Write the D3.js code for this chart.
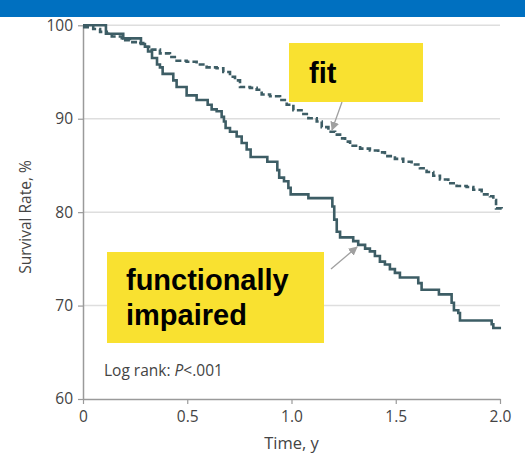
<!DOCTYPE html>
<html>
<head>
<meta charset="utf-8">
<script src="https://cdn.jsdelivr.net/npm/d3@7"></script>
<style>
  body { margin: 0; background: #fff; }
  svg { display: block; }
</style>
</head>
<body>
<div id="chart"></div>
<script>
// survival curves
// each point = time (years) where the step drops, and the rate after it

// functionally impaired (solid line)
var impairedTimes = [0, 0.110, 0.193, 0.278, 0.297, 0.312, 0.331, 0.355, 0.369, 0.382, 0.433, 0.449, 0.497, 0.545, 0.598,
    0.617, 0.641, 0.665, 0.676, 0.684, 0.705, 0.737, 0.761, 0.785, 0.804, 0.884, 0.932, 0.941, 0.964, 0.985,
    0.996, 1.081, 1.196, 1.205, 1.217, 1.233, 1.296, 1.320, 1.353, 1.376, 1.400, 1.424, 1.448, 1.472, 1.496,
    1.520, 1.608, 1.624, 1.707, 1.768, 1.779, 1.800, 1.808, 1.960, 1.968, 2.005];
var impairedRates = [100, 99.1, 98.6, 98.0, 97.7, 97.2, 96.5, 95.8, 95.5, 94.8, 94.1, 93.4, 92.5, 92.0, 91.5,
    91.0, 90.8, 90.2, 89.7, 89.0, 88.6, 88.1, 87.4, 86.7, 85.9, 85.4, 84.5, 83.7, 83.3, 82.6,
    81.9, 81.5, 80.6, 79.2, 77.9, 77.3, 76.9, 76.5, 76.1, 75.8, 75.3, 74.7, 74.4, 73.9, 73.5,
    73.0, 72.4, 71.7, 71.2, 70.3, 69.5, 69.2, 68.4, 68.0, 67.6, 67.6];

// fit (dashed line)
var fitTimes = [0, 0.049, 0.082, 0.114, 0.138, 0.186, 0.225, 0.265, 0.289, 0.329, 0.369, 0.417, 0.449, 0.497, 0.545,
    0.593, 0.641, 0.673, 0.705, 0.729, 0.753, 0.801, 0.833, 0.857, 0.897, 0.945, 0.977, 1.009, 1.057, 1.081,
    1.121, 1.145, 1.177, 1.209, 1.233, 1.257, 1.281, 1.329, 1.376, 1.416, 1.448, 1.496, 1.536, 1.576, 1.616,
    1.648, 1.680, 1.712, 1.752, 1.792, 1.840, 1.872, 1.912, 1.952, 1.968, 1.981, 2.008];
var fitRates = [99.8, 99.6, 99.3, 99.1, 98.8, 98.4, 98.2, 98.1, 97.7, 97.4, 97.0, 96.6, 96.2, 96.1, 95.8,
    95.5, 95.4, 95.0, 94.5, 94.1, 93.4, 93.3, 93.1, 92.6, 92.4, 92.0, 91.5, 90.9, 90.5, 90.05,
    89.7, 89.1, 88.6, 88.3, 87.9, 87.55, 87.1, 86.8, 86.6, 86.4, 86.0, 85.7, 85.4, 85.1, 84.7,
    84.3, 83.9, 83.5, 83.1, 82.8, 82.7, 82.4, 81.9, 81.7, 81.3, 80.4, 80.2];

// axis ticks
var xTicks = [0, 0.5, 1.0, 1.5, 2.0];
var xTickLabels = ['0', '0.5', '1.0', '1.5', '2.0'];
var yTicks = [60, 70, 80, 90, 100];
var gridValues = [70, 80, 90, 100];

var width = 525, height = 457;
var lineColor = '#3d5d65';
var axisColor = '#9a9a9a';
var textColor = '#444';

var svg = d3.select('#chart').append('svg')
    .attr('width', width)
    .attr('height', height);

// blue band on top
svg.append('rect')
    .attr('x', 0).attr('y', 0)
    .attr('width', width).attr('height', 17)
    .attr('fill', '#0070c0');

var x = d3.scaleLinear().domain([0, 2]).range([83, 500]);
var y = d3.scaleLinear().domain([60, 100]).range([399, 25.3]);

// gridlines
svg.append('g').selectAll('line')
    .data(gridValues)
    .enter().append('line')
    .attr('x1', x(0)).attr('x2', x(2))
    .attr('y1', function(d){ return y(d); })
    .attr('y2', function(d){ return y(d); })
    .attr('stroke', '#dedede')
    .attr('stroke-width', 1.5);

// axes
var xAxis = svg.append('g')
    .attr('transform', 'translate(0,' + y(60) + ')')
    .call(d3.axisBottom(x).tickValues(xTicks)
        .tickFormat(function(d, i){ return xTickLabels[i]; })
        .tickSize(5).tickSizeOuter(0).tickPadding(7));

var yAxis = svg.append('g')
    .attr('transform', 'translate(' + x(0) + ',0)')
    .call(d3.axisLeft(y).tickValues(yTicks)
        .tickSize(5).tickSizeOuter(0).tickPadding(5));

[xAxis, yAxis].forEach(function(a){
    a.select('.domain').attr('stroke', axisColor).attr('stroke-width', 1.5);
    a.selectAll('.tick line').attr('stroke', axisColor).attr('stroke-width', 1.2);
    a.selectAll('.tick text')
        .attr('fill', textColor)
        .style('font-family', '"Open Sans", sans-serif')
        .style('font-size', '15.5px');
});

// axis titles
svg.append('text')
    .attr('x', 291.5).attr('y', 449)
    .attr('text-anchor', 'middle')
    .attr('fill', textColor)
    .style('font-family', '"Open Sans", sans-serif')
    .style('font-size', '16.5px')
    .text('Time, y');

svg.append('text')
    .attr('transform', 'translate(31,217) rotate(-90)')
    .attr('text-anchor', 'middle')
    .attr('fill', textColor)
    .style('font-family', '"Open Sans", sans-serif')
    .style('font-size', '15.5px')
    .text('Survival Rate, %');

// curves
var stepLine = d3.line()
    .x(function(d){ return x(d[0]); })
    .y(function(d){ return y(d[1]); })
    .curve(d3.curveStepAfter);

var impairedData = impairedTimes.map(function(t, i){ return [t, impairedRates[i]]; });
var fitData = fitTimes.map(function(t, i){ return [t, fitRates[i]]; });

svg.append('path')
    .datum(fitData)
    .attr('d', stepLine)
    .attr('fill', 'none')
    .attr('stroke', lineColor)
    .attr('stroke-width', 2.6)
    .attr('stroke-dasharray', '6,3');

svg.append('path')
    .datum(impairedData)
    .attr('d', stepLine)
    .attr('fill', 'none')
    .attr('stroke', lineColor)
    .attr('stroke-width', 2.6);

// log rank note
var note = svg.append('text')
    .attr('x', 104).attr('y', 376)
    .attr('fill', textColor)
    .style('font-family', '"Open Sans", sans-serif')
    .style('font-size', '15.5px');
note.append('tspan').text('Log rank: ');
note.append('tspan').style('font-style', 'italic').text('P');
note.append('tspan').text('<.001');

// arrow head
svg.append('defs').append('marker')
    .attr('id', 'head')
    .attr('viewBox', '0 0 10 10')
    .attr('refX', 9).attr('refY', 5)
    .attr('markerWidth', 9).attr('markerHeight', 9)
    .attr('markerUnits', 'userSpaceOnUse')
    .attr('orient', 'auto')
    .append('path')
    .attr('d', 'M0,0 L10,5 L0,10 z')
    .attr('fill', '#a0a0a0');

// yellow callouts
svg.append('line')
    .attr('x1', 342).attr('y1', 102).attr('x2', 332).attr('y2', 130)
    .attr('stroke', '#a0a0a0').attr('stroke-width', 1.3)
    .attr('marker-end', 'url(#head)');

svg.append('line')
    .attr('x1', 331).attr('y1', 269).attr('x2', 357).attr('y2', 247)
    .attr('stroke', '#a0a0a0').attr('stroke-width', 1.3)
    .attr('marker-end', 'url(#head)');

svg.append('rect')
    .attr('x', 289).attr('y', 43)
    .attr('width', 134).attr('height', 59)
    .attr('fill', '#f9e130');

svg.append('text')
    .attr('x', 309).attr('y', 83)
    .attr('fill', '#000')
    .style('font-family', '"Liberation Sans", Arial, sans-serif')
    .style('font-weight', 'bold')
    .style('font-size', '29px')
    .text('fit');

svg.append('rect')
    .attr('x', 107).attr('y', 252)
    .attr('width', 217).attr('height', 91)
    .attr('fill', '#f9e130');

var impairedLabel = svg.append('text')
    .attr('fill', '#000')
    .style('font-family', '"Liberation Sans", Arial, sans-serif')
    .style('font-weight', 'bold')
    .style('font-size', '29px');
impairedLabel.append('tspan').attr('x', 126).attr('y', 290).text('functionally');
impairedLabel.append('tspan').attr('x', 126).attr('y', 325).text('impaired');
</script>
</body>
</html>
